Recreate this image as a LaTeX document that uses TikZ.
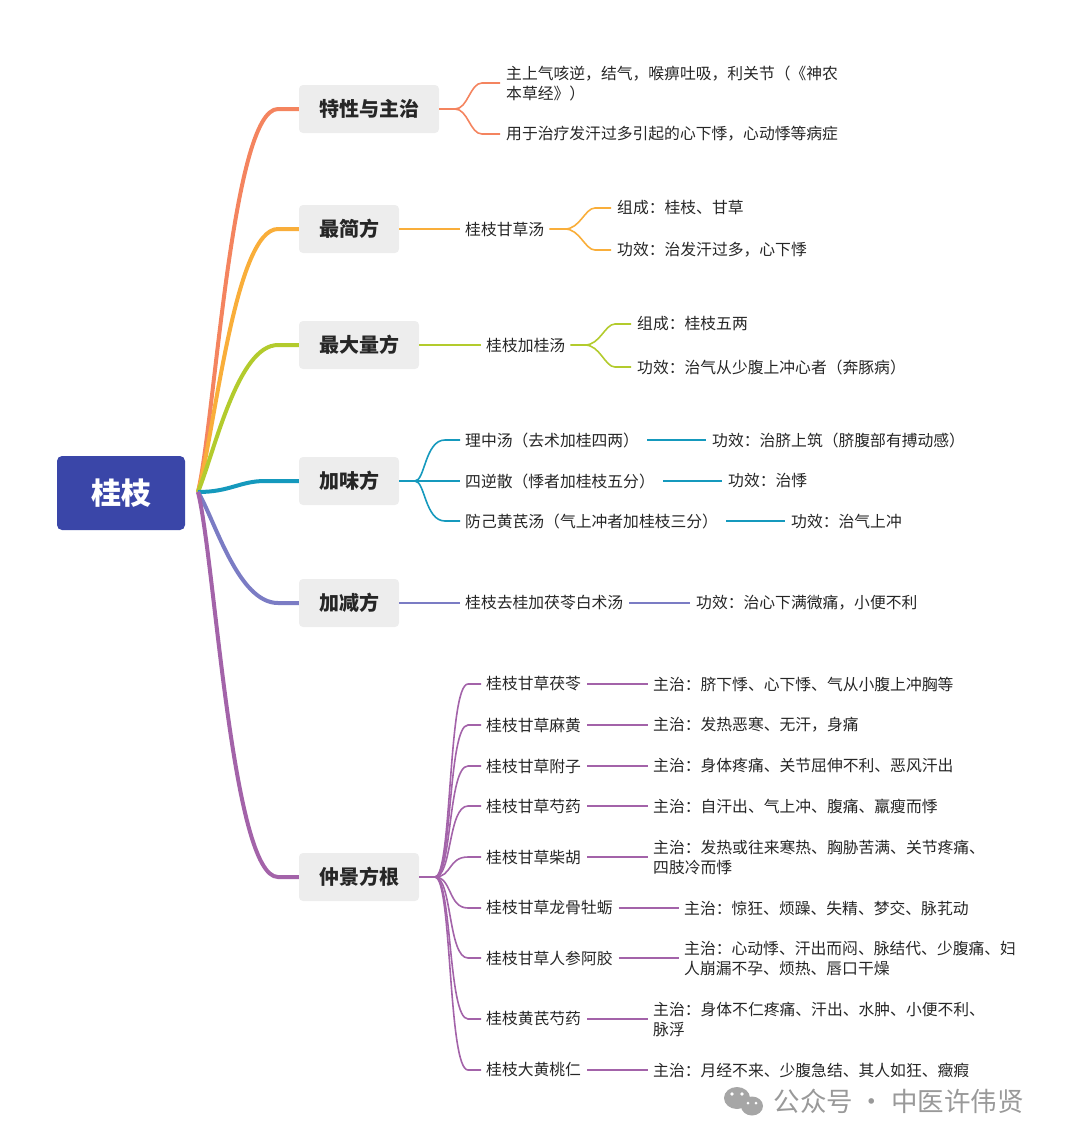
\documentclass[tikz,border=0pt]{standalone}
\usepackage{fontspec}
\setmainfont{Noto Sans CJK SC}
\begin{document}
\begin{tikzpicture}[x=1pt,y=-1pt,
  leaf/.style={anchor=west,inner sep=0pt,font=\fontsize{15.8}{20}\selectfont,text=black!85,align=left},
  br/.style={fill=black!7,rounded corners=4pt,minimum height=48pt,font=\fontsize{20}{24}\selectfont\bfseries,text=black!85,inner xsep=20pt},
  ln/.style={line width=1.6pt},
  trunk/.style={line width=4pt}]
\useasboundingbox (0,0) rectangle (1080,1144);
\definecolor{cA}{HTML}{F4845F}\definecolor{cB}{HTML}{F9AE3A}\definecolor{cC}{HTML}{B3CB2D}
\definecolor{cD}{HTML}{1599BD}\definecolor{cE}{HTML}{7B7CC4}\definecolor{cF}{HTML}{A363A9}
\definecolor{cR}{HTML}{3A46A8}
\node[fill=cR,rounded corners=5pt,minimum width=128pt,minimum height=74pt,font=\fontsize{30}{34}\selectfont\bfseries,text=white] (root) at (121,493) {桂枝};
\node[br] (b1) at (369,109) {特性与主治};
\node[br] (b2) at (349,229) {最简方};
\node[br] (b3) at (359,345) {最大量方};
\node[br] (b4) at (349,481) {加味方};
\node[br] (b5) at (349,603) {加减方};
\node[br] (b6) at (359,877) {仲景方根};
\coordinate (r) at (198,492);
\draw[trunk,cA] (r) .. controls (215,420) and (232,109) .. (278,109) -- (b1.west);
\draw[trunk,cB] (r) .. controls (215,430) and (235,229) .. (278,229) -- (b2.west);
\draw[trunk,cC] (r) .. controls (215,450) and (238,345) .. (278,345) -- (b3.west);
\draw[trunk,cD] (r) .. controls (230,492) and (240,481) .. (265,481) -- (b4.west);
\draw[trunk,cE] (r) .. controls (215,520) and (238,603) .. (278,603) -- (b5.west);
\draw[trunk,cF] (r) .. controls (215,560) and (232,877) .. (278,877) -- (b6.west);
% b1
\node[leaf] (l11) at (506,83) {主上气咳逆，结气，喉痹吐吸，利关节（《神农\\本草经》）};
\node[leaf] (l12) at (506,134) {用于治疗发汗过多引起的心下悸，心动悸等病症};
\coordinate (f1) at (455,109);
\draw[ln,cA] (b1.east) -- (f1) .. controls (468,109) and (470,83) .. (482,83) -- (500,83);
\draw[ln,cA] (f1) .. controls (468,109) and (470,134) .. (482,134) -- (500,134);
% b2
\node[leaf] (l2) at (465,229) {桂枝甘草汤};
\node[leaf] (l21) at (617,208) {组成：桂枝、甘草};
\node[leaf] (l22) at (617,250) {功效：治发汗过多，心下悸};
\draw[ln,cB] (b2.east) -- ([xshift=-5pt]l2.west);
\draw[ln,cB] ([xshift=5pt]l2.east) -- (565,229) .. controls (580,229) and (585,208) .. (595,208) -- (611,208);
\draw[ln,cB] (565,229) .. controls (580,229) and (585,250) .. (595,250) -- (611,250);
% b3
\node[leaf] (l3) at (486,345) {桂枝加桂汤};
\node[leaf] (l31) at (637,324) {组成：桂枝五两};
\node[leaf] (l32) at (637,367) {功效：治气从少腹上冲心者（奔豚病）};
\draw[ln,cC] (b3.east) -- ([xshift=-5pt]l3.west);
\draw[ln,cC] ([xshift=5pt]l3.east) -- (585,345) .. controls (600,345) and (605,324) .. (615,324) -- (631,324);
\draw[ln,cC] (585,345) .. controls (600,345) and (605,367) .. (615,367) -- (631,367);
% b4
\node[leaf] (l41) at (465,440) {理中汤（去术加桂四两）};
\node[leaf] (l42) at (465,481) {四逆散（悸者加桂枝五分）};
\node[leaf] (l43) at (465,521) {防己黄芪汤（气上冲者加桂枝三分）};
\node[leaf] (m41) at (712,440) {功效：治脐上筑（脐腹部有搏动感）};
\node[leaf] (m42) at (728,481) {功效：治悸};
\node[leaf] (m43) at (791,521) {功效：治气上冲};
\coordinate (f4) at (415,481);
\draw[ln,cD] (b4.east) -- (f4) -- ([xshift=-5pt]l42.west);
\draw[ln,cD] (f4) .. controls (425,481) and (425,440) .. (445,440) -- ([xshift=-5pt]l41.west);
\draw[ln,cD] (f4) .. controls (425,481) and (425,521) .. (445,521) -- ([xshift=-5pt]l43.west);
\foreach \i in {1,2,3} \draw[ln,cD] ([xshift=8pt]l4\i.east) -- ([xshift=-6pt]m4\i.west);
% b5
\node[leaf] (l5) at (465,603) {桂枝去桂加茯苓白术汤};
\node[leaf] (m5) at (696,603) {功效：治心下满微痛，小便不利};
\draw[ln,cE] (b5.east) -- ([xshift=-5pt]l5.west);
\draw[ln,cE] ([xshift=6pt]l5.east) -- ([xshift=-6pt]m5.west);
% b6
\coordinate (f6) at (435,877);
\draw[ln,cF] (b6.east) -- (f6);
\foreach \n/\y/\a/\mx/\b in {
 1/684/桂枝甘草茯苓/653/主治：脐下悸、心下悸、气从小腹上冲胸等,
 2/725/桂枝甘草麻黄/653/主治：发热恶寒、无汗，身痛,
 3/766/桂枝甘草附子/653/主治：身体疼痛、关节屈伸不利、恶风汗出,
 4/806/桂枝甘草芍药/653/主治：自汗出、气上冲、腹痛、羸瘦而悸,
 5/857/桂枝甘草柴胡/653/{主治：发热或往来寒热、胸胁苦满、关节疼痛、\\四肢冷而悸},
 6/908/桂枝甘草龙骨牡蛎/684/主治：惊狂、烦躁、失精、梦交、脉芤动,
 7/958/桂枝甘草人参阿胶/684/{主治：心动悸、汗出而闷、脉结代、少腹痛、妇\\人崩漏不孕、烦热、唇口干燥},
 8/1019/桂枝黄芪芍药/653/{主治：身体不仁疼痛、汗出、水肿、小便不利、\\脉浮},
 9/1070/桂枝大黄桃仁/653/主治：月经不来、少腹急结、其人如狂、癥瘕} {
  \node[leaf] (n\n) at (486,\y) {\a};
  \node[leaf] (m\n) at (\mx,\y) {\b};
  \draw[ln,cF] (f6) .. controls (452,877) and (448,\y) .. (468,\y) -- ([xshift=-5pt]n\n.west);
  \draw[ln,cF] ([xshift=6pt]n\n.east) -- ([xshift=-5pt]m\n.west);
}
\fill[black!35] (737,1098) ellipse (13 and 11);
\fill[black!35] (752,1106) ellipse (11 and 9.5);
\fill[white] (732,1094) circle (1.8) (742,1094) circle (1.8) (748,1103) circle (1.5) (756,1103) circle (1.5);
\node[anchor=west,text=black!40,font=\fontsize{26.5}{28}\selectfont] (wm) at (770,1101) {公众号 · 中医许伟贤};
\end{tikzpicture}
\end{document}
